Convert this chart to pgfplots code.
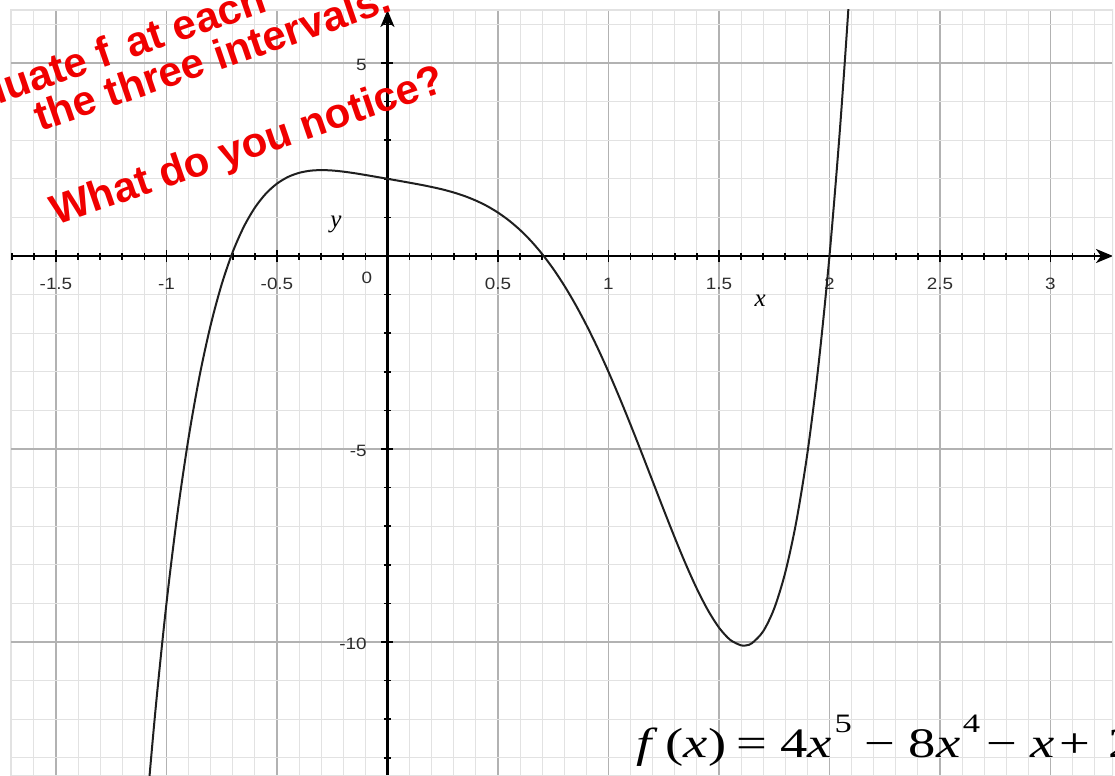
\documentclass[border=0pt]{standalone}
\usepackage{pgfplots}
\usepackage{pgfplotstable}
\pgfplotsset{compat=1.18}
\usepackage{fontspec}
\setmainfont{Liberation Serif}
\setsansfont{Liberation Sans}
\usetikzlibrary{arrows.meta}

\definecolor{gridminor}{RGB}{226,226,226}
\definecolor{gridmajor}{RGB}{178,178,178}
\definecolor{notered}{RGB}{240,0,0}
\definecolor{ticktext}{RGB}{45,45,45}

\newcommand{\supnum}[1]{\raisebox{12.5pt}{\fontsize{13.3}{14}\selectfont#1}}

% f(x) = 4x^5 - 8x^4 - x + 2, sampled
\pgfplotstableread{
x y
-1.15 -18.89
-1.10 -15.055
-1.05 -11.779
-1.00 -9.000
-0.95 -6.661
-0.90 -4.711
-0.85 -3.101
-0.80 -1.788
-0.75 -0.730
-0.70 0.107
-0.65 0.758
-0.60 1.252
-0.55 1.617
-0.50 1.875
-0.45 2.048
-0.40 2.154
-0.35 2.209
-0.30 2.2255
-0.25 2.215
-0.20 2.186
-0.15 2.146
-0.10 2.099
-0.05 2.050
0.00 2.000
0.05 1.950
0.10 1.899
0.15 1.846
0.20 1.788
0.25 1.723
0.30 1.645
0.35 1.551
0.40 1.436
0.45 1.296
0.50 1.125
0.55 0.919
0.60 0.674
0.65 0.386
0.70 0.051
0.75 -0.332
0.80 -0.766
0.85 -1.251
0.90 -1.787
0.95 -2.371
1.00 -3.000
1.05 -3.669
1.10 -4.371
1.15 -5.097
1.20 -5.836
1.25 -6.574
1.30 -7.297
1.35 -7.986
1.40 -8.620
1.45 -9.175
1.50 -9.625
1.55 -9.940
1.60 -10.086
1.625 -10.084
1.65 -10.027
1.70 -9.723
1.75 -9.129
1.80 -8.198
1.85 -6.878
1.90 -5.113
1.95 -2.842
2.00 0.000
2.05 3.482
2.10 7.679
2.15 12.67
}\fdata

\begin{document}
\begin{tikzpicture}[x=0.5pt,y=0.5pt]
\path[use as bounding box] (0,0) rectangle (1115,776);
\clip (0,0) rectangle (1115,776);
\begin{axis}[
  at={(5pt,0pt)}, anchor=south west,
  scale only axis, width=551.5pt, height=383pt,
  xmin=-1.708, xmax=3.283, ymin=-13.47, ymax=6.373,
  axis lines=middle,
  axis line style={line width=1.3pt, -{Stealth[length=8.5pt,width=7pt,inset=2.5pt]}},
  xtick={-1.5,-1,-0.5,0.5,1,1.5,2,2.5,3},
  xticklabels={-1.5,-1,-0.5,0.5,1,1.5,2,2.5,3},
  ytick={-10,-5,5},
  yticklabels={-10,-5,5},
  minor xtick={-1.7,-1.6,-1.5,-1.4,-1.3,-1.2,-1.1,-1,-0.9,-0.8,-0.7,-0.6,-0.5,-0.4,-0.3,-0.2,-0.1,0.1,0.2,0.3,0.4,0.5,0.6,0.7,0.8,0.9,1,1.1,1.2,1.3,1.4,1.5,1.6,1.7,1.8,1.9,2,2.1,2.2,2.3,2.4,2.5,2.6,2.7,2.8,2.9,3,3.1,3.2},
  minor ytick={-13,-12,-11,-10,-9,-8,-7,-6,-5,-4,-3,-2,-1,1,2,3,4,5,6},
  grid=both,
  minor grid style={gridminor, line width=0.5pt},
  major grid style={gridmajor, line width=0.6pt},
  tick align=center,
  major tick length=6pt,
  minor tick length=3.5pt,
  every tick/.style={black, line width=0.8pt},
  every minor tick/.style={black, line width=0.8pt},
  xticklabel style={font=\sffamily\fontsize{8.2}{9}\selectfont, text=ticktext, inner sep=0pt, anchor=center, xscale=1.15, yshift=-10.75pt},
  yticklabel style={font=\sffamily\fontsize{8.2}{9}\selectfont, text=ticktext, inner sep=0pt, anchor=east, xscale=1.15, xshift=-6.25pt, yshift=-0.75pt},
  xlabel={\textit{x}}, ylabel={\textit{y}},
  x label style={at={(axis cs:1.686,-1.166)}, anchor=center, font=\fontsize{12.5}{14}\selectfont},
  y label style={at={(axis cs:-0.233,0.83)}, anchor=center, rotate=0, font=\fontsize{12.5}{14}\selectfont},
]
\draw[gridminor, line width=0.6pt] (rel axis cs:0,0) rectangle (rel axis cs:1,1);
\addplot[smooth, line width=1pt, color=black!88] table[x=x, y=y] {\fdata};
\node[font=\sffamily\fontsize{8.2}{9}\selectfont, text=ticktext, inner sep=0pt, xscale=1.15] at (axis cs:-0.093,-0.57) {0};
\end{axis}

% annotation written across the upper left of the grid
\begin{scope}[font=\sffamily\bfseries\fontsize{21}{24}\selectfont, text=notered]
\node[rotate=19, anchor=base west, inner sep=0pt] at (-73,647) {Evaluate f\hspace{0.42em}at each};
\node[rotate=19, anchor=base west, inner sep=0pt] at (40,644) {the three intervals.};
\node[rotate=19, anchor=base west, inner sep=0pt] at (56,550) {What do you notice?};
\end{scope}

% the function's rule
\node[anchor=base west, inner sep=0pt, xscale=1.3, font=\fontsize{21}{24}\selectfont] at (636,18)
  {\textit{f}\kern3pt(\textit{x})\kern4pt=\kern5pt4\textit{x}\kern1pt\supnum{5}\kern5pt−\kern5pt8\textit{x}\kern1pt\supnum{4}\kern2.5pt−\kern5pt\textit{x}\kern2pt+\kern7pt2};
\end{tikzpicture}
\end{document}
